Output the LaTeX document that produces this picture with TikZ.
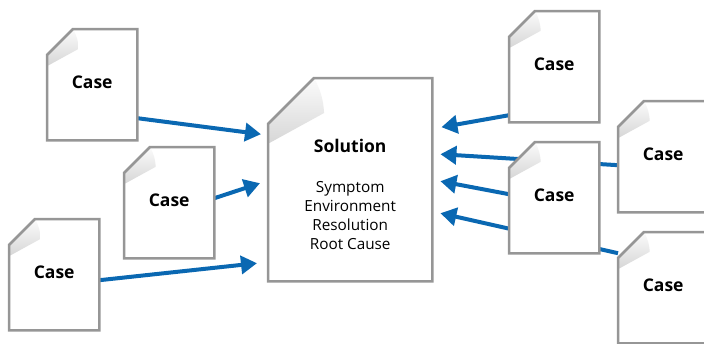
\documentclass[tikz,border=0pt]{standalone}
\usepackage{fontspec}
\setmainfont{Open Sans}
\usetikzlibrary{arrows.meta,calc}
\definecolor{docgray}{RGB}{150,150,150}
\definecolor{arrowblue}{RGB}{10,104,178}
\tikzset{
  docbox/.style={rectangle, draw=none, inner sep=0pt, minimum width=90pt, minimum height=111pt, anchor=north west},
  solbox/.style={docbox, minimum width=164pt, minimum height=203pt},
  docline/.style={draw=docgray, line width=2.5pt, line join=miter},
  flap/.style={top color=gray!3, bottom color=gray!32},
  link/.style={draw=arrowblue, line width=4pt, -{Triangle[length=16pt,width=18pt]}},
  casetext/.style={font=\fontsize{17.5}{21}\selectfont\bfseries, anchor=base, inner sep=0pt},
  bodytext/.style={font=\fontsize{15.3}{18}\selectfont, anchor=base, inner sep=0pt},
}
\newcommand\docpaint[2]{%
  \fill[white] ([yshift=-#2pt]#1.north west) -- ([xshift=#2pt]#1.north west) -- (#1.north east) -- (#1.south east) -- (#1.south west) -- cycle;
  \shade[flap] ([xshift=#2pt]#1.north west) to[bend left=12] ([xshift=1.22*#2pt, yshift=-0.76*#2pt]#1.north west) -- ([yshift=-1.43*#2pt]#1.north west) -- ([yshift=-#2pt]#1.north west) -- cycle;
  \draw[docline] ([yshift=-#2pt]#1.north west) -- ([xshift=#2pt]#1.north west) -- (#1.north east) -- (#1.south east) -- (#1.south west) -- cycle;
}
\begin{document}
\begin{tikzpicture}[x=1pt, y=-1pt]
\useasboundingbox (0,0) rectangle (704,343);
\clip (0,0) rectangle (704,343);
% boxes (placement)
\node[solbox] (sol) at (268,78) {};
\node[docbox] (c1) at (47,29) {};
\node[docbox] (c2) at (124,147) {};
\node[docbox] (c3) at (9,219) {};
\node[docbox] (rt) at (509,11) {};
\node[docbox] (rm) at (509,142) {};
\node[docbox] (frt) at (618,101) {};
\node[docbox] (frb) at (618,232) {};
% connectors
\draw[link] ([yshift=-33.5pt]c1.east) -- ([xshift=-7pt, yshift=45.5pt]sol.west);
\draw[link] ([yshift=4.5pt]c2.east) -- ([xshift=-8pt, yshift=-3.5pt]sol.west);
\draw[link] ([yshift=-5.5pt]c3.east) -- ([xshift=-11pt, yshift=-83.5pt]sol.west);
\draw[link] ([yshift=-48.5pt]rt.west) -- ([xshift=9pt, yshift=52.5pt]sol.east);
\draw[link] ([yshift=-8.5pt]frt.west) -- ([xshift=8pt, yshift=25.5pt]sol.east);
\draw[link] ([yshift=3.5pt]rm.west) -- ([xshift=8pt, yshift=-1.5pt]sol.east);
\draw[link] ([yshift=34.5pt]frb.west) -- ([xshift=8pt, yshift=-33.5pt]sol.east);
% documents
\docpaint{sol}{46}
\docpaint{c1}{26}
\docpaint{c2}{26}
\docpaint{c3}{26}
\docpaint{rt}{26}
\docpaint{frt}{26}
\docpaint{frb}{26}
\docpaint{rm}{26}
% texts
\node[casetext] (solt) at ([yshift=-74pt]sol.north) {Solution};
\node[bodytext] (b1) at ([yshift=-114pt]sol.north) {Symptom};
\node[bodytext] (b2) at ([yshift=-133pt]sol.north) {Environment};
\node[bodytext] (b3) at ([yshift=-152pt]sol.north) {Resolution};
\node[bodytext] (b4) at ([yshift=-171pt]sol.north) {Root Cause};
\foreach \n in {c1,c2,c3,rt,rm,frt,frb}{
  \node[casetext] (\n t) at ([yshift=-59pt]\n.north) {Case};
}
\end{tikzpicture}
\end{document}
